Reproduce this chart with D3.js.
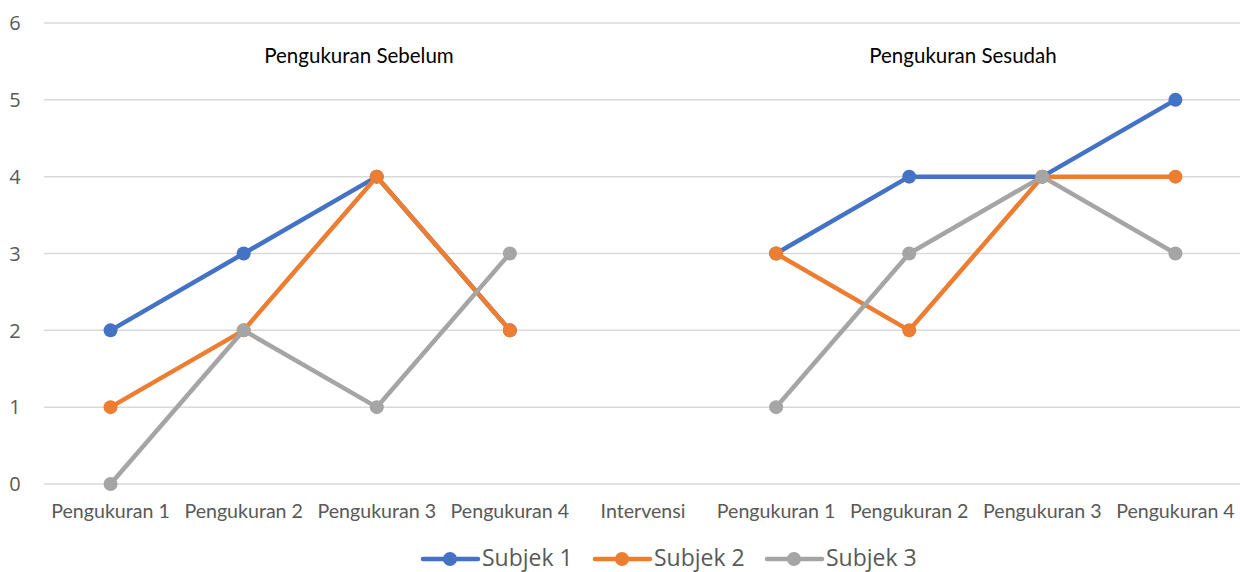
<!DOCTYPE html>
<html><head><meta charset="utf-8">
<script src="https://cdn.jsdelivr.net/npm/d3@7/dist/d3.min.js"></script>
<style>body{margin:0;background:#fff}svg{display:block}text{font-family:"Open Sans",sans-serif}</style>
</head><body><svg id="c" width="1240" height="572"></svg>
<script>
const categories = ["Pengukuran 1","Pengukuran 2","Pengukuran 3","Pengukuran 4","Intervensi","Pengukuran 1 ","Pengukuran 2 ","Pengukuran 3 ","Pengukuran 4 "];
const subjek1 = [2,3,4,2,null,3,4,4,5];
const subjek2 = [1,2,4,2,null,3,2,4,4];
const subjek3 = [0,2,1,3,null,1,3,4,3];
const seriesNames = ["Subjek 1","Subjek 2","Subjek 3"];
const colors = ["#4472c4","#ed7d31","#a5a5a5"];
const yTicks = [0,1,2,3,4,5,6];
const phaseTitles = ["Pengukuran Sebelum","Pengukuran Sesudah"];

const svg = d3.select("#c");
const x = d3.scaleBand().domain(categories).range([44,1242]);
const y = d3.scaleLinear().domain([0,6]).range([484,23]);

svg.append("g").selectAll("line").data(yTicks).join("line")
  .attr("x1",44).attr("x2",1240).attr("y1",d=>y(d)).attr("y2",d=>y(d))
  .attr("stroke","#d9d9d9").attr("stroke-width",1.5);
svg.append("g").selectAll("text").data(yTicks).join("text")
  .attr("x",15).attr("y",d=>y(d)).attr("dy","0.36em").attr("text-anchor","middle")
  .attr("font-size",20).attr("fill","#595959").text(d=>d);
svg.append("g").selectAll("text").data(categories).join("text")
  .attr("x",d=>x(d)+x.bandwidth()/2).attr("y",518).attr("text-anchor","middle")
  .style("font-family","Lato, sans-serif")
  .attr("font-size",19.6).attr("fill","#595959").text(d=>d.trim());

svg.append("g").selectAll("text").data(phaseTitles).join("text")
  .attr("x",(d,i)=>[359,963][i]).attr("y",63).attr("text-anchor","middle")
  .style("font-family","Lato, sans-serif")
  .attr("font-size",20.5).attr("fill","#000").text(d=>d);

const allSeries = [subjek1,subjek2,subjek3];
const line = d3.line().defined(d=>d.v!==null).x(d=>x(d.c)+x.bandwidth()/2).y(d=>y(d.v));
allSeries.forEach((s,i)=>{
  const pts = s.map((v,j)=>({c:categories[j],v}));
  const g = svg.append("g");
  g.append("path").datum(pts).attr("d",line).attr("fill","none")
    .attr("stroke",colors[i]).attr("stroke-width",4.5).attr("stroke-linejoin","round").attr("stroke-linecap","round");
  g.selectAll("circle").data(pts.filter(d=>d.v!==null)).join("circle")
    .attr("cx",d=>x(d.c)+x.bandwidth()/2).attr("cy",d=>y(d.v)).attr("r",7).attr("fill",colors[i]);
});

const legX = [423,595,767];
const lg = svg.append("g").selectAll("g").data(seriesNames).join("g")
  .attr("transform",(d,i)=>`translate(${legX[i]},559)`);
lg.append("line").attr("x1",0).attr("x2",55).attr("y1",0).attr("y2",0)
  .attr("stroke",(d,i)=>colors[i]).attr("stroke-width",4.5).attr("stroke-linecap","round");
lg.append("circle").attr("cx",27).attr("cy",0).attr("r",7).attr("fill",(d,i)=>colors[i]);
lg.append("text").attr("x",59).attr("y",-1).attr("dy","0.36em").attr("font-size",23)
  .attr("fill","#595959").text(d=>d);
</script></body></html>
